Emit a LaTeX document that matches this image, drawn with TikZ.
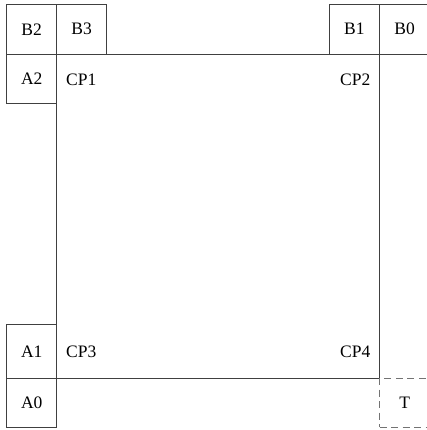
\documentclass[tikz,border=0pt]{standalone}
\usepackage{fontspec}
\setmainfont{Liberation Serif}
\begin{document}
\begin{tikzpicture}[x=1pt,y=-1pt,
  ln/.style={draw=black!75, line width=0.9pt},
  cell/.style={ln, rectangle, inner sep=0pt, font=\fontsize{17.5}{20}\selectfont},
  lbl/.style={inner sep=0pt, font=\fontsize{17.5}{20}\selectfont},
  dsh/.style={draw=black!55, line width=0.9pt, dash pattern=on 7pt off 4.5pt}]
\useasboundingbox (0,0) rectangle (427,430);
\clip (0,0) rectangle (427,430);
% big square
\node[ln, rectangle, inner sep=0pt, minimum width=323pt, minimum height=323.5pt] (sq) at (218.2,216.25) {};
% top row
\node[cell, minimum width=50pt, minimum height=50.5pt] (B2) at (31.7,29.25) {B2};
\node[cell, minimum width=50pt, minimum height=50.5pt] (B3) at (81.7,29.25) {B3};
\node[cell, minimum width=50.7pt, minimum height=50.5pt] (B1) at (354.35,29.25) {B1};
\node[cell, minimum width=50pt, minimum height=50.5pt] (B0) at (404.7,29.25) {B0};
% left column
\node[cell, minimum width=50pt, minimum height=49pt] (A2) at (31.7,79) {A2};
\node[cell, minimum width=50pt, minimum height=53.5pt] (A1) at (31.7,351.25) {A1};
\node[cell, minimum width=50pt, minimum height=49.3pt] (A0) at (31.7,402.65) {A0};
% dashed box
\node[dsh, rectangle, inner sep=0pt, minimum width=50pt, minimum height=49.3pt, font=\fontsize{17.5}{20}\selectfont] (T) at (404.7,402.65) {T};
% corner labels
\node[lbl, anchor=west] (CP1) at (66,80) {CP1};
\node[lbl, anchor=east] (CP2) at (370.5,80) {CP2};
\node[lbl, anchor=west] (CP3) at (66,352) {CP3};
\node[lbl, anchor=east] (CP4) at (370.5,352) {CP4};
\end{tikzpicture}
\end{document}
